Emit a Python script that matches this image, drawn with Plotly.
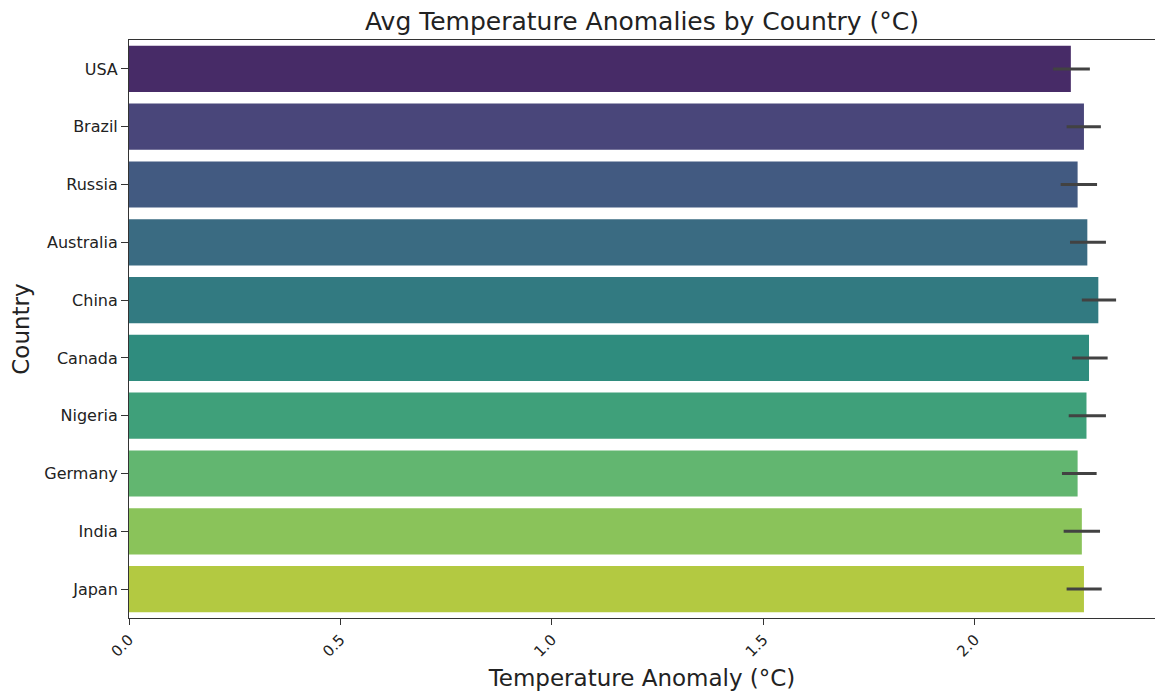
import colorsys
import plotly.graph_objects as go
from plotly.colors import sample_colorscale, unlabel_rgb

countries = ["USA", "Brazil", "Russia", "Australia", "China", "Canada",
             "Nigeria", "Germany", "India", "Japan"]
means = [2.227, 2.258, 2.243, 2.266, 2.292, 2.270, 2.264, 2.243, 2.253, 2.258]
ci_low = [2.185, 2.217, 2.203, 2.225, 2.253, 2.230, 2.222, 2.206, 2.210, 2.217]
ci_high = [2.272, 2.298, 2.289, 2.310, 2.334, 2.314, 2.310, 2.288, 2.296, 2.300]
x_ticks = [0.0, 0.5, 1.0, 1.5, 2.0]
x_tick_labels = ["0.0", "0.5", "1.0", "1.5", "2.0"]

n = len(countries)
raw = sample_colorscale("Viridis", [(i + 1) / (n + 1) for i in range(n)])
colors = []
for c in raw:
    r, g, b = [v / 255.0 for v in unlabel_rgb(c)]
    h, l, s = colorsys.rgb_to_hls(r, g, b)
    r, g, b = colorsys.hls_to_rgb(h, l, s * 0.75)
    colors.append("rgb(%d,%d,%d)" % (round(r * 255), round(g * 255), round(b * 255)))

err_plus = [hi - m for hi, m in zip(ci_high, means)]
err_minus = [m - lo for lo, m in zip(ci_low, means)]

fig = go.Figure(go.Bar(
    x=means, y=countries, orientation="h",
    marker=dict(color=colors, line=dict(width=0)),
    error_x=dict(type="data", array=err_plus, arrayminus=err_minus,
                 color="#424242", thickness=3, width=0),
))

font_family = "DejaVu Sans"
fig.update_layout(
    width=1155, height=692,
    margin=dict(l=129, r=0, t=40, b=74, autoexpand=False),
    paper_bgcolor="white", plot_bgcolor="white",
    bargap=0.2,
    showlegend=False,
    font=dict(family=font_family, color="#222222", size=16),
    title=dict(text="Avg Temperature Anomalies by Country (°C)",
               x=(129 + 1155) / 2 / 1155, xanchor="center",
               y=1 - 21 / 692, yanchor="middle",
               font=dict(size=25, family=font_family, color="#222222")),
    xaxis=dict(
        range=[0, 2.426], automargin=False,
        tickvals=x_ticks, ticktext=x_tick_labels, tickangle=-45,
        ticks="outside", ticklen=6, tickcolor="#333",
        showgrid=False, zeroline=False,
        showline=True, linecolor="#333", linewidth=1, mirror=True,
        tickfont=dict(size=15),
        title=dict(text="Temperature Anomaly (°C)", font=dict(size=23), standoff=10),
    ),
    yaxis=dict(
        autorange="reversed", automargin=False,
        ticks="outside", ticklen=7, tickcolor="#333",
        showgrid=False, zeroline=False,
        showline=True, linecolor="#333", linewidth=1,
        tickfont=dict(size=16),
        title=dict(text="Country", font=dict(size=23), standoff=8),
    ),
)

fig.write_html(
    "out.html",
    config={"displayModeBar": False},
    post_script="document.body.style.margin='0';document.body.style.overflow='hidden';",
)
